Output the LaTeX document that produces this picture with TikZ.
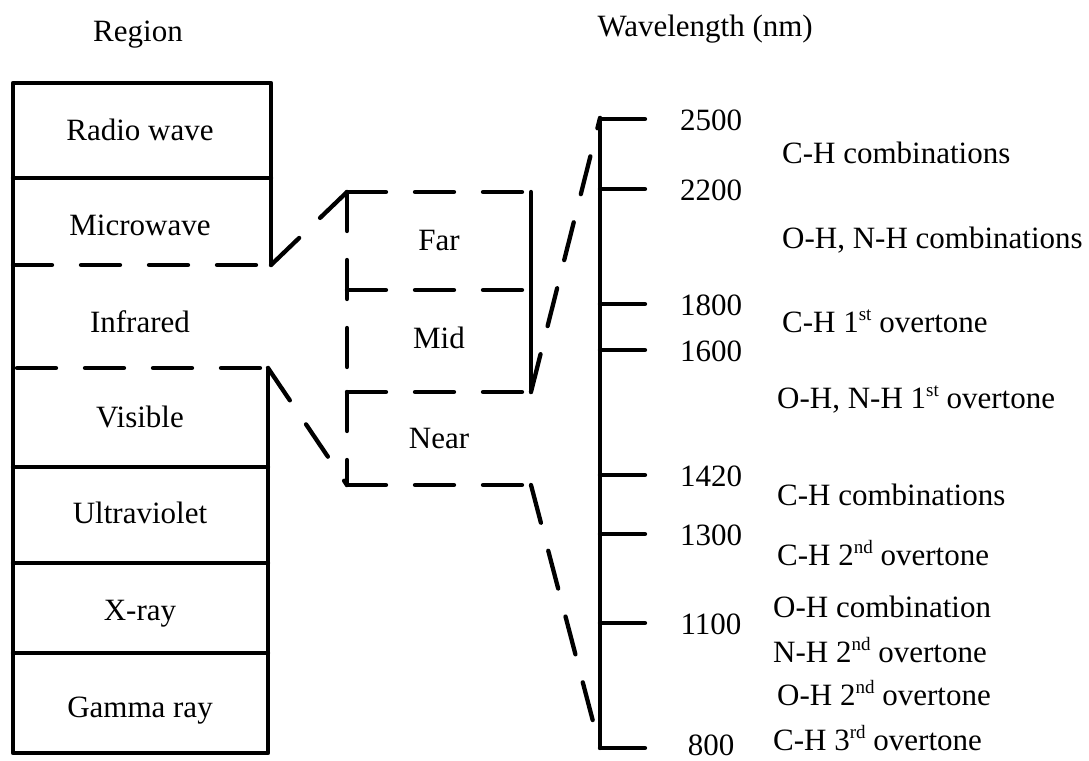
\documentclass[tikz,border=0pt]{standalone}
\usepackage{fontspec}
\setmainfont{Liberation Serif}
\newcommand{\supr}[1]{\raisebox{12pt}{\fontsize{19}{19}\selectfont #1}}
\begin{document}
\begin{tikzpicture}[x=1pt,y=-1pt,
  every node/.style={font=\fontsize{31}{37}\selectfont, inner sep=0pt},
  lbl/.style={anchor=base},
  lbll/.style={anchor=base west},
  solidline/.style={line width=4.3pt, line cap=round, line join=round},
  dashline/.style={line width=4.3pt, line cap=round, dash pattern=on 39pt off 29pt}]
\useasboundingbox (0,0) rectangle (1089,760);
% headers
\node[lbll] (hreg) at (93,42) {Region};
\node[anchor=base east] (hwav) at (813,37) {Wavelength (nm)};
% left column coordinates
\coordinate (LT) at (13,83); \coordinate (RT) at (271,83);
\coordinate (LB) at (13,753); \coordinate (RB) at (268,753);
\coordinate (L1) at (13,178); \coordinate (R1) at (271,178);
\coordinate (L2) at (13,265); \coordinate (R2) at (271,265);
\coordinate (L3) at (17,368); \coordinate (R3) at (268,368);
\coordinate (L4) at (13,467); \coordinate (R4) at (268,467);
\coordinate (L5) at (13,563); \coordinate (R5) at (268,563);
\coordinate (L6) at (13,653); \coordinate (R6) at (268,653);
\draw[solidline] (R2) -- (RT) -- (LT) -- (LB) -- (RB) -- (R3);
\draw[solidline] (L1) -- (R1);
\draw[solidline] (L4) -- (R4);
\draw[solidline] (L5) -- (R5);
\draw[solidline] (L6) -- (R6);
\draw[dashline] (L2) -- (R2);
\draw[dashline] (L3) -- (R3);
% left labels
\node[lbl] (radio) at (140,140) {Radio wave};
\node[lbl] (micro) at (140,235) {Microwave};
\node[lbl] (infra) at (140,332) {Infrared};
\node[lbl] (visib) at (140,427) {Visible};
\node[lbl] (ultra) at (140,523) {Ultraviolet};
\node[lbl] (xray) at (140,620) {X-ray};
\node[lbl] (gamma) at (140,717) {Gamma ray};
% middle box
\coordinate (MTL) at (347,192); \coordinate (MTR) at (531,192);
\coordinate (M1L) at (347,290); \coordinate (M1R) at (531,290);
\coordinate (M2L) at (347,392); \coordinate (M2R) at (531,392);
\coordinate (MBL) at (347,485); \coordinate (MBR) at (531,485);
\draw[dashline] (R2) -- (MTL);
\draw[dashline] (R3) -- (MBL);
\draw[dashline] (MTL) -- (MTR);
\draw[dashline] (MTL) -- (M2L);
\draw[dashline] (M2L) -- (MBL);
\draw[dashline] (M1L) -- (M1R);
\draw[dashline] (M2L) -- (M2R);
\draw[dashline] (MBL) -- (MBR);
\draw[solidline] (MTR) -- (M2R);
\node[lbl] (far) at (439,250) {Far};
\node[lbl] (mid) at (439,348) {Mid};
\node[lbl] (near) at (439,448) {Near};
% scale
\coordinate (S0) at (600,118); \coordinate (S1) at (600,748);
\draw[solidline] (S0) -- (S1);
\draw[dashline] (M2R) -- (S0);
\draw[dashline] (MBR) -- (S1);
\foreach \v/\y/\b in {2500/119/130,2200/189/200,1800/304/315,1600/350/361,1420/475/486,1300/534/545,1100/623/634,800/748/755}{
  \coordinate (t\v) at (600,\y);
  \coordinate (u\v) at (645,\y);
  \draw[solidline] (t\v) -- (u\v);
  \node[lbl] (n\v) at (711,\b) {\v};
}
% right labels
\node[lbll] (a1) at (782,163) {C-H combinations};
\node[lbll] (a2) at (782,248) {O-H, N-H combinations};
\node[lbll] (a3) at (782,332) {C-H 1\supr{st} overtone};
\node[lbll] (a4) at (777,408) {O-H, N-H 1\supr{st} overtone};
\node[lbll] (a5) at (777,505) {C-H combinations};
\node[lbll] (a6) at (777,565) {C-H 2\supr{nd} overtone};
\node[lbll] (a7) at (773,617) {O-H combination};
\node[lbll] (a8) at (773,662) {N-H 2\supr{nd} overtone};
\node[lbll] (a9) at (777,705) {O-H 2\supr{nd} overtone};
\node[lbll] (a10) at (773,750) {C-H 3\supr{rd} overtone};
\end{tikzpicture}
\end{document}
